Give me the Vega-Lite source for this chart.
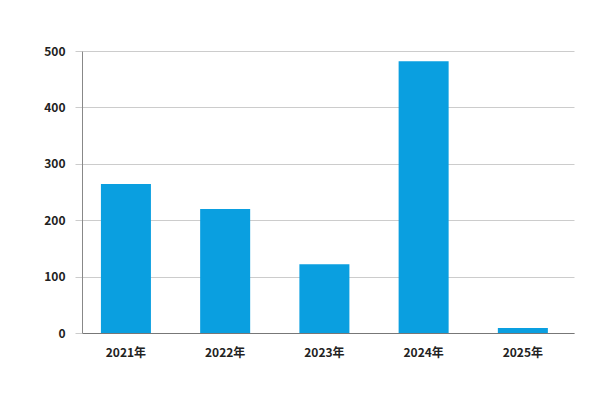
{
  "$schema": "https://vega.github.io/schema/vega-lite/v6.json",
  "width": 492,
  "height": 282,
  "autosize": "none",
  "padding": {"left": 82, "top": 51, "right": 28, "bottom": 69},
  "background": "#ffffff",
  "config": {
    "view": {"stroke": null},
    "font": "Noto Sans CJK JP"
  },
  "data": {
    "values": [
      {"year": "2021年", "value": 264},
      {"year": "2022年", "value": 220},
      {"year": "2023年", "value": 122},
      {"year": "2024年", "value": 482},
      {"year": "2025年", "value": 9}
    ]
  },
  "mark": {"type": "bar", "color": "#0a9fe0"},
  "encoding": {
    "x": {
      "field": "year",
      "type": "nominal",
      "sort": null,
      "scale": {"paddingInner": 0.496, "paddingOuter": 0.227, "align": 0.42},
      "axis": {
        "title": null,
        "labelAngle": 0,
        "ticks": false,
        "labelPadding": 14,
        "labelFontSize": 12,
        "labelFontWeight": "bold",
        "labelColor": "#222222",
        "domainColor": "#777777",
        "grid": false
      }
    },
    "y": {
      "field": "value",
      "type": "quantitative",
      "scale": {"domain": [0, 500], "nice": false},
      "axis": {
        "title": null,
        "values": [0, 100, 200, 300, 400, 500],
        "tickSize": 7,
        "tickColor": "#cccccc",
        "gridColor": "#cccccc",
        "domainColor": "#888888",
        "labelPadding": 10,
        "labelFontSize": 12,
        "labelFontWeight": "bold",
        "labelColor": "#222222"
      }
    }
  }
}
